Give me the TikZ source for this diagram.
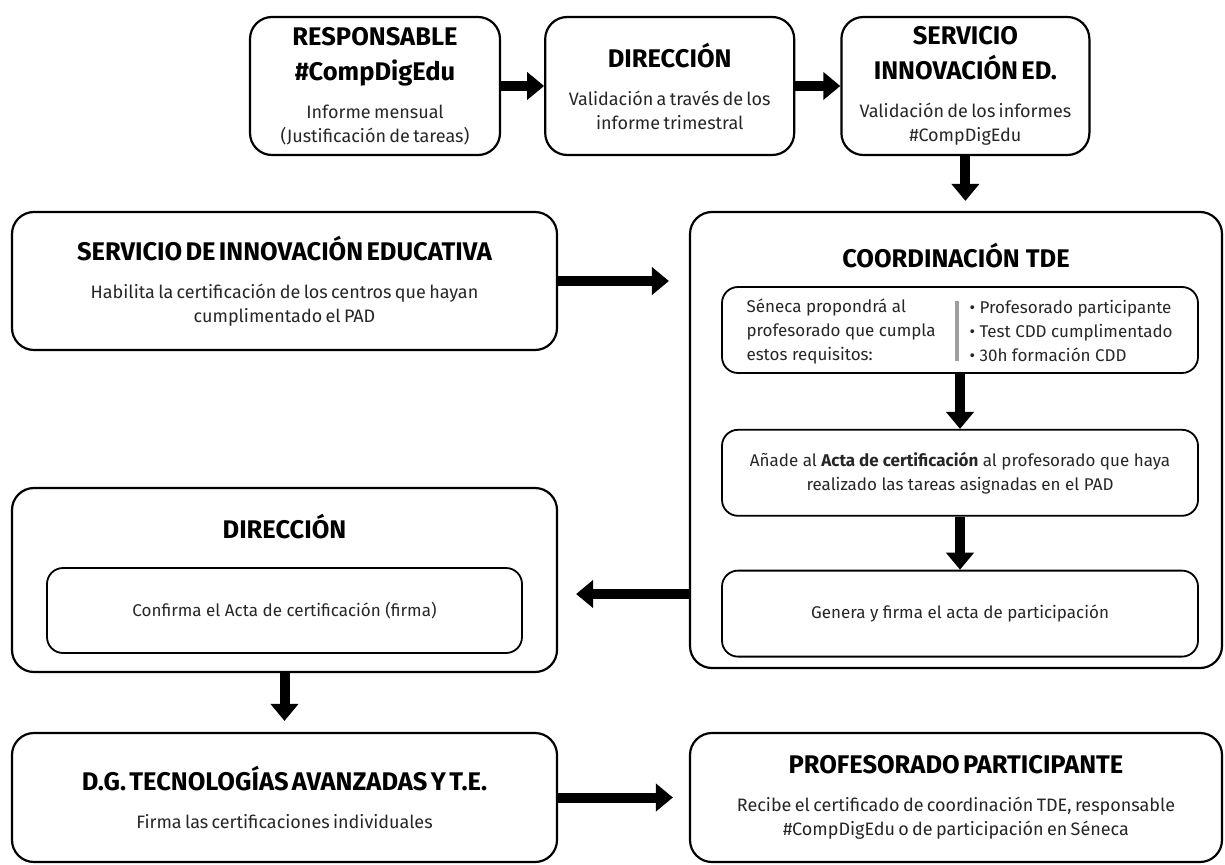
\documentclass[tikz,border=0pt]{standalone}
\usepackage{fontspec}
\setmainfont{Fira Sans}
\usetikzlibrary{arrows.meta,positioning}

\newcommand{\headfont}{\bfseries\fontsize{25.5}{35}\selectfont}
\newcommand{\bodyfont}{\fontsize{18}{24}\selectfont}
\newcommand{\stepfont}{\fontsize{17}{24}\selectfont}
\newcommand{\boxtext}[2]{{\headfont #1\par}\vspace{14pt}{\color{black!85}\bodyfont #2\par}}

\begin{document}
\begin{tikzpicture}[x=1pt,y=-1pt,>={Triangle[length=17pt,width=27pt]}]

  \tikzstyle{box}=[draw,line width=2.2pt,rounded corners=22pt,align=center,inner sep=0pt]
  \tikzstyle{step box}=[draw,line width=1.8pt,rounded corners=16pt,align=center,
                        inner sep=0pt,font=\stepfont,text=black!85]
  \tikzstyle{head}=[font=\headfont,align=center]
  \tikzstyle{post}=[->,line width=10pt]

  \useasboundingbox (0,0) rectangle (1225,864);

  % top row
  \node [box,minimum width=250pt,minimum height=138pt,text width=245pt]
        (resp) at (375,86)
        {\boxtext{RESPONSABLE\\\#CompDigEdu}{Informe mensual\\(Justificación de tareas)}};
  \node [box,minimum width=249pt,minimum height=138pt,text width=245pt]
        (dir) [right=43pt of resp]
        {\boxtext{DIRECCIÓN}{Validación a través de los\\informe trimestral}};
  \node [box,minimum width=248pt,minimum height=138pt,text width=245pt]
        (serv) [right=45pt of dir]
        {\boxtext{SERVICIO\\INNOVACIÓN ED.}{Validación de los informes\\\#CompDigEdu}};

  % left column
  \node [box,minimum width=545pt,minimum height=138pt,text width=530pt]
        (sie) at (284.5,281)
        {\boxtext{SERVICIO DE INNOVACIÓN EDUCATIVA}{Habilita la certificación de los centros que hayan\\cumplimentado el PAD}};
  \node [box,minimum width=545pt,minimum height=184pt] (dir2) at (284.5,580) {};
  \node [head] (dir2t) at (284.5,527) {DIRECCIÓN};
  \node [step box,minimum width=475pt,minimum height=85pt] (conf) at (284.5,610.5)
        {Confirma el Acta de certificación (firma)};
  \node [box,minimum width=545pt,minimum height=129pt,text width=530pt]
        (dg) at (284.5,797.5)
        {\boxtext{D.G. TECNOLOGÍAS AVANZADAS Y T.E.}{Firma las certificaciones individuales}};

  % right column
  \node [box,minimum width=532pt,minimum height=456pt] (coord) at (956,440) {};
  \node [head] (coordt) at (956,256) {COORDINACIÓN TDE};
  \node [step box,minimum width=476pt,minimum height=86pt] (req) at (960,330) {};
  \node [font=\stepfont,text=black!85,align=left,anchor=west] (reqa) at (743,331)
        {Séneca propondrá al\\profesorado que cumpla\\estos requisitos:};
  \node [font=\stepfont,text=black!85,align=left,anchor=west] (reqb) at (966,331)
        {\textbullet\ Profesorado participante\\\textbullet\ Test CDD cumplimentado\\\textbullet\ 30h formación CDD};
  \draw [gray!75,line width=4pt] ([xshift=-3pt,yshift=-15pt]req.north) -- ([xshift=-3pt,yshift=13pt]req.south);
  \node [step box,minimum width=476pt,minimum height=86pt] (add) [below=55pt of req]
        {Añade al \textbf{Acta de certificación} al profesorado que haya\\realizado las tareas asignadas en el PAD};
  \node [step box,minimum width=476pt,minimum height=86pt] (gen) [below=53pt of add]
        {Genera y firma el acta de participación};
  \node [box,minimum width=532pt,minimum height=129pt,text width=520pt]
        (pp) at (956,797.5)
        {\boxtext{PROFESORADO PARTICIPANTE}{Recibe el certificado de coordinación TDE, responsable\\\#CompDigEdu o de participación en Séneca}};

  % connectors
  \draw [post] (resp) -- (dir);
  \draw [post] (dir) -- (serv);
  \draw [post,shorten >=10pt] (serv.south) -- (serv.south |- coord.north);
  \draw [post,shorten >=20pt] (sie.east) -- (sie.east -| coord.west);
  \draw [post] (req) -- (add);
  \draw [post] (add) -- (gen);
  \draw [post,shorten >=18pt] ([yshift=-14pt]coord.west |- dir2.east) -- ([yshift=-14pt]dir2.east);
  \draw [post,shorten >=11pt] (dir2) -- (dg);
  \draw [post,shorten >=16pt] (dg) -- (pp);
\end{tikzpicture}
\end{document}
